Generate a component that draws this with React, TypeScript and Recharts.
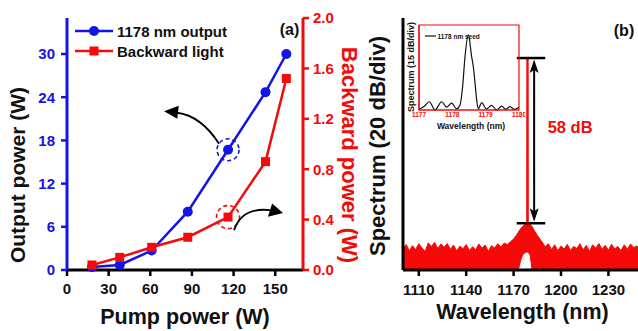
import React from 'react'
import {
  ComposedChart,
  LineChart,
  Line,
  Area,
  XAxis,
  YAxis,
  Legend,
  ReferenceDot,
  ReferenceLine,
  ReferenceArea,
} from 'recharts'

const FONT = '"Liberation Sans", Arial, sans-serif'
const BLUE = '#1414e6'
const RED = '#f50a0a'

// (a) output / backward power vs pump power
const pumpPower = [18, 38, 61, 87, 116, 143, 158]
const outputPower = [0.4, 0.7, 2.7, 8.1, 16.7, 24.7, 30.0]
const backwardPower = [0.04, 0.1, 0.18, 0.26, 0.42, 0.86, 1.52]
const pumpTicks = [0, 30, 60, 90, 120, 150]
const outputTicks = [0, 6, 12, 18, 24, 30]
const backwardTicks = [0, 0.4, 0.8, 1.2, 1.6, 2.0]

// (b) amplified spectrum, upper and lower edge of the noisy trace (dB)
const spectrumNm = [
  1100, 1102, 1104, 1106, 1108, 1110, 1112, 1114, 1116, 1118, 1120, 1122, 1124, 1126, 1128, 1130, 1132,
  1134, 1136, 1138, 1140, 1142, 1144, 1146, 1148, 1150, 1152, 1154, 1156, 1158, 1160, 1162, 1164, 1166,
  1168, 1170, 1172, 1173, 1174.5, 1176, 1177.5, 1178.3, 1178.4, 1179.2, 1179.3, 1180.5, 1181.7, 1183,
  1185, 1187, 1188.5,
  1190, 1192, 1194, 1196, 1198, 1200, 1202, 1204, 1206, 1208, 1210, 1212, 1214, 1216, 1218, 1220, 1222,
  1224, 1226, 1228, 1230, 1232, 1234, 1236, 1238, 1240, 1242, 1244, 1246, 1248, 1250,
]
const spectrumHigh = [
  -82.4, -80.9, -83.1, -81.3, -82.7, -80.6, -82.1, -83.4, -80.3, -81.6, -80.1, -82.3, -80.7, -81.9, -80.5,
  -82.6, -81.1, -83.2, -81.5, -82.4, -80.9, -83.0, -81.7, -82.8, -80.7, -82.2, -81.1, -83.3, -81.3, -82.1,
  -80.6, -81.8, -80.4, -80.9,
  -79.9, -78.9, -77.4, -76.5, -75.2, -74.3, -73.6, -73.4, -14.3, -14.3, -73.3, -73.7, -74.5, -75.8, -77.6,
  -79.2, -80.4,
  -81.7, -80.6, -82.7, -81.0, -83.1, -81.4, -82.5, -80.8, -83.0, -81.6, -82.3, -80.6, -82.8, -81.2, -83.3,
  -81.0, -82.2, -80.5, -82.6, -81.2, -82.9, -80.8, -82.4, -81.6, -83.1, -81.0, -82.6, -80.7, -82.0, -81.4,
  -82.7,
]
const spectrumLow = [
  -90, -90, -90, -90, -90, -90, -90, -90, -90, -90, -90, -90, -90, -90, -90, -90, -90, -90, -90, -90, -90,
  -90, -90, -90, -90, -90, -90, -90, -90, -90, -90, -90, -90, -90,
  -90, -90, -90, -90, -86.5, -84.3, -83.8, -83.6, -83.6, -83.6, -83.6, -84.8, -90, -90, -90, -90, -90,
  -90, -90, -90, -90, -90, -90, -90, -90, -90, -90, -90, -90, -90, -90, -90, -90, -90, -90, -90, -90, -90,
  -90, -90, -90, -90, -90, -90, -90, -90, -90, -90,
]
const wavelengthTicks = [1110, 1140, 1170, 1200, 1230]
const spectrumTicks = [-80, -60, -40, -20]
const signalTop = -14.3
const aseTop = -73.3

// inset: seed spectrum
const seedNm = [
  1177.0, 1177.15, 1177.31, 1177.48, 1177.68, 1177.83, 1177.98, 1178.13, 1178.23, 1178.31, 1178.38, 1178.48,
  1178.58, 1178.63, 1178.68, 1178.73, 1178.78, 1178.88, 1179.02, 1179.18, 1179.33, 1179.48, 1179.6, 1179.73,
  1179.86, 1180.0,
]
const seedDb = [
  -74.5, -72, -67.7, -75, -67.7, -72.5, -69, -74, -70.6, -54, -28, -8.8, -28, -36.8, -51, -66, -74, -68.5,
  -74, -71, -75, -71.5, -74.5, -72, -74.5, -72.5,
]
const seedTicks = [1177, 1178, 1179, 1180]

const powerData = pumpPower.map((p, i) => ({ pump: p, output: outputPower[i], backward: backwardPower[i] }))
const spectrumData = spectrumNm.map((nm, i) => ({ nm, band: [spectrumLow[i], spectrumHigh[i]] }))
const seedData = seedNm.map((nm, i) => ({ nm, db: seedDb[i] }))

const tickFont = { fontFamily: FONT, fontWeight: 'bold', fontSize: 15 }

function PowerLegend() {
  return (
    <svg width={180} height={44} style={{ overflow: 'visible' }}>
      <line x1={3} y1={11} x2={41} y2={11} stroke={BLUE} strokeWidth={2.5} />
      <circle cx={22} cy={11} r={5} fill={BLUE} />
      <text x={45} y={16.5} fontFamily={FONT} fontWeight="bold" fontSize={15} fill="#111">
        1178 nm output
      </text>
      <line x1={3} y1={31} x2={41} y2={31} stroke={RED} strokeWidth={2.5} />
      <rect x={17.5} y={26.5} width={9} height={9} fill={RED} />
      <text x={45} y={36.5} fontFamily={FONT} fontWeight="bold" fontSize={15} fill="#111">
        Backward light
      </text>
    </svg>
  )
}

function SeedLegend() {
  return (
    <svg width={70} height={8} style={{ overflow: 'visible' }}>
      <line x1={0} y1={4} x2={11} y2={4} stroke="#111" strokeWidth={1.2} />
      <text x={12.5} y={6.5} fontFamily={FONT} fontWeight="bold" fontSize={6.5} fill="#111">
        1178 nm seed
      </text>
    </svg>
  )
}

function BlueMark(p: any) {
  const { cx, cy } = p
  return (
    <g>
      <circle cx={cx} cy={cy} r={11} fill="none" stroke={BLUE} strokeWidth={1.6} strokeDasharray="4 3" />
      <path d={`M ${cx - 9} ${cy - 6} Q ${cx - 27} ${cy - 34} ${cx - 51} ${cy - 37}`} fill="none" stroke="#000" strokeWidth={1.8} />
      <path d={`M ${cx - 64} ${cy - 38.5} L ${cx - 49.3} ${cy - 44} L ${cx - 50.7} ${cy - 31} Z`} fill="#000" />
    </g>
  )
}

function RedMark(p: any) {
  const { cx, cy } = p
  return (
    <g>
      <circle cx={cx} cy={cy} r={11.5} fill="none" stroke={RED} strokeWidth={1.6} strokeDasharray="4 3" />
      <path d={`M ${cx + 6} ${cy + 13} Q ${cx + 14} ${cy - 10} ${cx + 42} ${cy - 7}`} fill="none" stroke="#000" strokeWidth={1.8} />
      <path d={`M ${cx + 55} ${cy - 4} L ${cx + 44.1} ${cy - 13.7} L ${cx + 39.9} ${cy - 0.3} Z`} fill="#000" />
    </g>
  )
}

function DoubleArrow(p: any) {
  const { x1, y1, y2 } = p
  const top = Math.min(y1, y2)
  const bot = Math.max(y1, y2)
  return (
    <g>
      <line x1={x1} y1={top + 12} x2={x1} y2={bot - 12} stroke="#000" strokeWidth={2} />
      <path d={`M ${x1} ${top + 1.5} L ${x1 - 4.5} ${top + 15} L ${x1} ${top + 12} L ${x1 + 4.5} ${top + 15} Z`} fill="#000" />
      <path d={`M ${x1} ${bot - 1.5} L ${x1 - 4.5} ${bot - 15} L ${x1} ${bot - 12} L ${x1 + 4.5} ${bot - 15} Z`} fill="#000" />
    </g>
  )
}

function Square(p: any) {
  return <rect key={p.index} x={p.cx - 4.5} y={p.cy - 4.5} width={9} height={9} fill={RED} />
}

export default function App() {
  return (
    <div style={{ position: 'absolute', left: 0, top: 0, width: 638, height: 331, overflow: 'hidden', background: '#fff' }}>
      {/* (a) */}
      <div style={{ position: 'absolute', left: 0, top: 0 }}>
        <ComposedChart width={360} height={331} data={powerData} margin={{ top: 18, right: 17, bottom: 31, left: 27 }}>
          <XAxis
            dataKey="pump"
            type="number"
            domain={[0, 170]}
            ticks={pumpTicks}
            height={30}
            tickSize={6}
            tickMargin={7}
            axisLine={{ stroke: '#000', strokeWidth: 3 }}
            tickLine={{ stroke: '#000', strokeWidth: 2.5 }}
            tick={{ ...tickFont, fill: '#111' }}
          />
          <XAxis
            xAxisId="top"
            orientation="top"
            type="number"
            domain={[0, 170]}
            ticks={pumpTicks.slice(1)}
            height={0}
            mirror
            tick={false}
            tickSize={5}
            axisLine={{ stroke: '#000', strokeWidth: 3 }}
            tickLine={{ stroke: '#000', strokeWidth: 2.5 }}
          />
          <YAxis
            yAxisId="left"
            type="number"
            domain={[0, 35]}
            ticks={outputTicks}
            width={40}
            tickSize={6}
            tickMargin={6}
            axisLine={{ stroke: BLUE, strokeWidth: 3 }}
            tickLine={{ stroke: BLUE, strokeWidth: 2.5 }}
            tick={{ ...tickFont, fill: BLUE }}
          />
          <YAxis
            yAxisId="right"
            orientation="right"
            type="number"
            domain={[0, 2]}
            ticks={backwardTicks}
            tickFormatter={(v: number) => v.toFixed(1)}
            width={40}
            tickSize={6}
            tickMargin={4}
            axisLine={{ stroke: RED, strokeWidth: 3 }}
            tickLine={{ stroke: RED, strokeWidth: 2.5 }}
            tick={{ ...tickFont, fill: RED }}
          />
          <Legend
            layout="vertical"
            align="center"
            verticalAlign="middle"
            content={() => <PowerLegend />}
            wrapperStyle={{ top: 20, left: 72, width: 180, height: 44 }}
          />
          <Line
            yAxisId="left"
            dataKey="output"
            type="linear"
            stroke={BLUE}
            strokeWidth={2.5}
            dot={{ r: 5, fill: BLUE, stroke: BLUE, strokeWidth: 0 }}
            isAnimationActive={false}
          />
          <Line
            yAxisId="right"
            dataKey="backward"
            type="linear"
            stroke={RED}
            strokeWidth={2.5}
            dot={Square}
            isAnimationActive={false}
          />
          <ReferenceDot yAxisId="left" x={116} y={16.7} shape={BlueMark} />
          <ReferenceDot yAxisId="right" x={116} y={0.42} shape={RedMark} />
        </ComposedChart>
      </div>

      {/* (b) */}
      <div style={{ position: 'absolute', left: 320, top: 0 }}>
        <ComposedChart width={340} height={331} data={spectrumData} margin={{ top: 18, right: 20, bottom: 31, left: 43 }}>
          <XAxis
            dataKey="nm"
            type="number"
            domain={[1100, 1250]}
            ticks={wavelengthTicks}
            height={30}
            tickSize={6}
            tickMargin={8}
            axisLine={{ stroke: '#000', strokeWidth: 3 }}
            tickLine={{ stroke: '#000', strokeWidth: 2.5 }}
            tick={{ ...tickFont, fill: '#111' }}
          />
          <XAxis
            xAxisId="top"
            orientation="top"
            type="number"
            domain={[1100, 1250]}
            height={0}
            tick={false}
            tickLine={false}
            axisLine={{ stroke: '#000', strokeWidth: 3 }}
          />
          <YAxis
            type="number"
            domain={[-90, 0]}
            ticks={spectrumTicks}
            width={40}
            tick={false}
            tickSize={6}
            axisLine={{ stroke: '#000', strokeWidth: 3 }}
            tickLine={{ stroke: '#000', strokeWidth: 2.5 }}
          />
          <Area
            dataKey="band"
            type="linear"
            fill={RED}
            fillOpacity={1}
            stroke={RED}
            strokeWidth={1}
            isAnimationActive={false}
          />
          <ReferenceLine segment={[{ x: 1172, y: signalTop }, { x: 1190, y: signalTop }]} stroke="#000" strokeWidth={2.5} />
          <ReferenceLine segment={[{ x: 1172, y: aseTop }, { x: 1190, y: aseTop }]} stroke="#000" strokeWidth={2.5} />
          <ReferenceLine segment={[{ x: 1183, y: signalTop }, { x: 1183, y: aseTop }]} shape={DoubleArrow} />
        </ComposedChart>
      </div>

      {/* inset */}
      <div style={{ position: 'absolute', left: 395, top: 15 }}>
        <LineChart width={130} height={125} data={seedData} margin={{ top: 10, right: 6, bottom: 0, left: 24 }}>
          <XAxis
            dataKey="nm"
            type="number"
            domain={[1177, 1180]}
            ticks={seedTicks}
            interval={0}
            height={30}
            tickLine={false}
            tickSize={0}
            tickMargin={2}
            axisLine={{ stroke: RED, strokeWidth: 1.2 }}
            tick={{ fontFamily: FONT, fontWeight: 'bold', fontSize: 6.5, fill: RED }}
          />
          <YAxis
            type="number"
            domain={[-75, 0]}
            ticks={[-60, -45, -30, -15]}
            width={24}
            mirror
            tick={false}
            tickSize={4}
            axisLine={{ stroke: RED, strokeWidth: 1.2 }}
            tickLine={{ stroke: '#333', strokeWidth: 1 }}
          />
          <ReferenceArea x1={1177} x2={1180} y1={-75} y2={0} fill="none" stroke={RED} strokeWidth={1.2} />
          <Legend
            layout="vertical"
            align="center"
            verticalAlign="middle"
            content={() => <SeedLegend />}
            wrapperStyle={{ top: 11, left: 30, width: 70, height: 8 }}
          />
          <Line dataKey="db" type="monotone" stroke="#111" strokeWidth={1.2} dot={false} isAnimationActive={false} />
        </LineChart>
      </div>

      {/* titles */}
      <svg width={638} height={331} style={{ position: 'absolute', left: 0, top: 0, pointerEvents: 'none' }}>
        <g fontFamily={FONT} fontWeight="bold">
          <text x={17} y={175} transform="rotate(-90 17 175)" textAnchor="middle" dominantBaseline="central" fontSize={21} fill="#111">
            Output power (W)
          </text>
          <text x={349.5} y={155} transform="rotate(90 349.5 155)" textAnchor="middle" dominantBaseline="central" fontSize={22} fill={RED}>
            Backward power (W)
          </text>
          <text x={377.5} y={146} transform="rotate(-90 377.5 146)" textAnchor="middle" dominantBaseline="central" fontSize={22} fill="#111">
            Spectrum (20 dB/div)
          </text>
          <text x={185} y={323.5} textAnchor="middle" fontSize={21.5} fill="#111">
            Pump power (W)
          </text>
          <text x={522.5} y={318.7} textAnchor="middle" fontSize={21.5} fill="#111">
            Wavelength (nm)
          </text>
          <text x={289.5} y={35} textAnchor="middle" fontSize={16} fill="#111">
            (a)
          </text>
          <text x={624} y={35.5} textAnchor="middle" fontSize={16} fill="#111">
            (b)
          </text>
          <text x={547.7} y={133.3} fontSize={16.5} fill={RED}>
            58 dB
          </text>
          <text x={410.5} y={67} transform="rotate(-90 410.5 67)" textAnchor="middle" dominantBaseline="central" fontSize={9} fill="#111">
            Spectrum (15 dB/div)
          </text>
          <text x={471} y={128.5} textAnchor="middle" fontSize={8.5} fill="#111">
            Wavelength (nm)
          </text>
        </g>
      </svg>
    </div>
  )
}
